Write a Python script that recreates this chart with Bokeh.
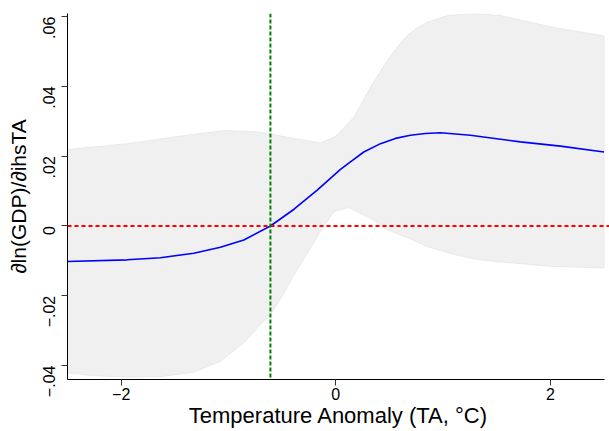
import math
from bokeh.plotting import figure
from bokeh.models import Range1d, Span, FixedTicker
from bokeh.embed import file_html
from bokeh.resources import INLINE

# Marginal effect curve
curve_x = [-2.503, -1.944, -1.634, -1.323, -1.075, -0.857, -0.609, -0.389, -0.173, 0.044,
           0.137, 0.261, 0.417, 0.556, 0.696, 0.836, 0.976, 1.255, 1.721, 2.094, 2.5]
curve_y = [-0.0102, -0.0097, -0.0091, -0.0078, -0.0061, -0.0040, 0.0, 0.0048, 0.0103, 0.0162,
           0.0184, 0.0212, 0.0236, 0.0251, 0.0260, 0.0265, 0.0267, 0.0260, 0.0241, 0.0229, 0.0212]

# Confidence band upper bound
upper_x = [-2.503, -1.944, -1.323, -1.012, -0.702, -0.389, -0.143, 0.0, 0.17, 0.324, 0.479, 0.572,
           0.665, 0.759, 0.852, 1.038, 1.286, 1.535, 2.032, 2.5]
upper_y = [0.0219, 0.0236, 0.0263, 0.0274, 0.0269, 0.0251, 0.0238, 0.0257, 0.0312, 0.0398, 0.0474, 0.0512,
           0.0546, 0.0568, 0.0584, 0.0603, 0.0609, 0.0603, 0.0569, 0.0545]

# Confidence band lower bound
lower_x = [-2.503, -2.255, -1.944, -1.634, -1.323, -1.075, -0.857, -0.702, -0.609, -0.5, -0.389, -0.236,
           -0.112, -0.016, 0.121, 0.324, 0.479, 0.7, 0.862, 1.1, 1.354, 2.01, 2.5]
lower_y = [-0.0421, -0.0429, -0.0433, -0.0432, -0.0419, -0.0388, -0.0335, -0.0283, -0.0254, -0.0202, -0.0140, -0.0064,
           0.0, 0.0041, 0.0053, 0.0022, -0.0011, -0.0038, -0.0060, -0.0082, -0.0098, -0.0116, -0.0120]

x_ticks = [-2, 0, 2]
x_tick_labels = ["\u22122", "0", "2"]
y_ticks = [-0.04, -0.02, 0.0, 0.02, 0.04, 0.06]
y_tick_labels = ["\u2212.04", "\u2212.02", "0", ".02", ".04", ".06"]

threshold_x = -0.609
reference_y = 0.0

FONT = "Liberation Sans"

p = figure(width=609, height=431, output_backend="svg", toolbar_location=None,
           x_range=Range1d(-2.5, 2.551), y_range=Range1d(-0.0440, 0.0609),
           min_border_left=67, min_border_right=0, min_border_top=13, min_border_bottom=52)
p.outline_line_color = None
p.xgrid.visible = False
p.ygrid.visible = False
p.background_fill_color = "white"
p.border_fill_color = "white"

band_x = upper_x + lower_x[::-1]
band_y = upper_y + lower_y[::-1]
p.patch(band_x, band_y, fill_color="#f0f0f0", line_color="#e6e6e6", line_width=0.8)

p.line(curve_x, curve_y, line_color="blue", line_width=1.6)

p.add_layout(Span(location=reference_y, dimension="width", line_color="red",
                  line_dash="4 3", line_width=2))
p.add_layout(Span(location=threshold_x, dimension="height", line_color="green",
                  line_dash="4 2", line_width=2))

p.xaxis.ticker = FixedTicker(ticks=x_ticks)
p.xaxis.major_label_overrides = {t: l for t, l in zip(x_ticks, x_tick_labels)}
p.yaxis.ticker = FixedTicker(ticks=y_ticks)
p.yaxis.major_label_overrides = {t: l for t, l in zip(y_ticks, y_tick_labels)}
p.xaxis.bounds = (-2.5, 2.5)

for ax in (p.xaxis, p.yaxis):
    ax.axis_line_color = "black"
    ax.axis_line_width = 1
    ax.major_tick_line_color = "#333333"
    ax.major_tick_in = 0
    ax.major_tick_out = 6
    ax.minor_tick_line_color = None
    ax.major_label_text_font = FONT
    ax.major_label_text_font_size = "16px"
    ax.major_label_text_color = "black"
    ax.axis_label_text_font = FONT
    ax.axis_label_text_font_style = "normal"
    ax.axis_label_text_color = "black"

p.xaxis.axis_label_text_font_size = "22px"
p.yaxis.axis_label_text_font_size = "21px"
p.yaxis.major_label_orientation = math.pi / 2
p.xaxis.major_label_standoff = 2
p.yaxis.major_label_standoff = 12
p.xaxis.axis_label = "Temperature Anomaly (TA, \u00b0C)"
p.yaxis.axis_label = "\u2202ln(GDP)/\u2202ihsTA"
p.xaxis.axis_label_standoff = 0
p.yaxis.axis_label_standoff = 5

open("out.html", "w").write(file_html(p, INLINE))
